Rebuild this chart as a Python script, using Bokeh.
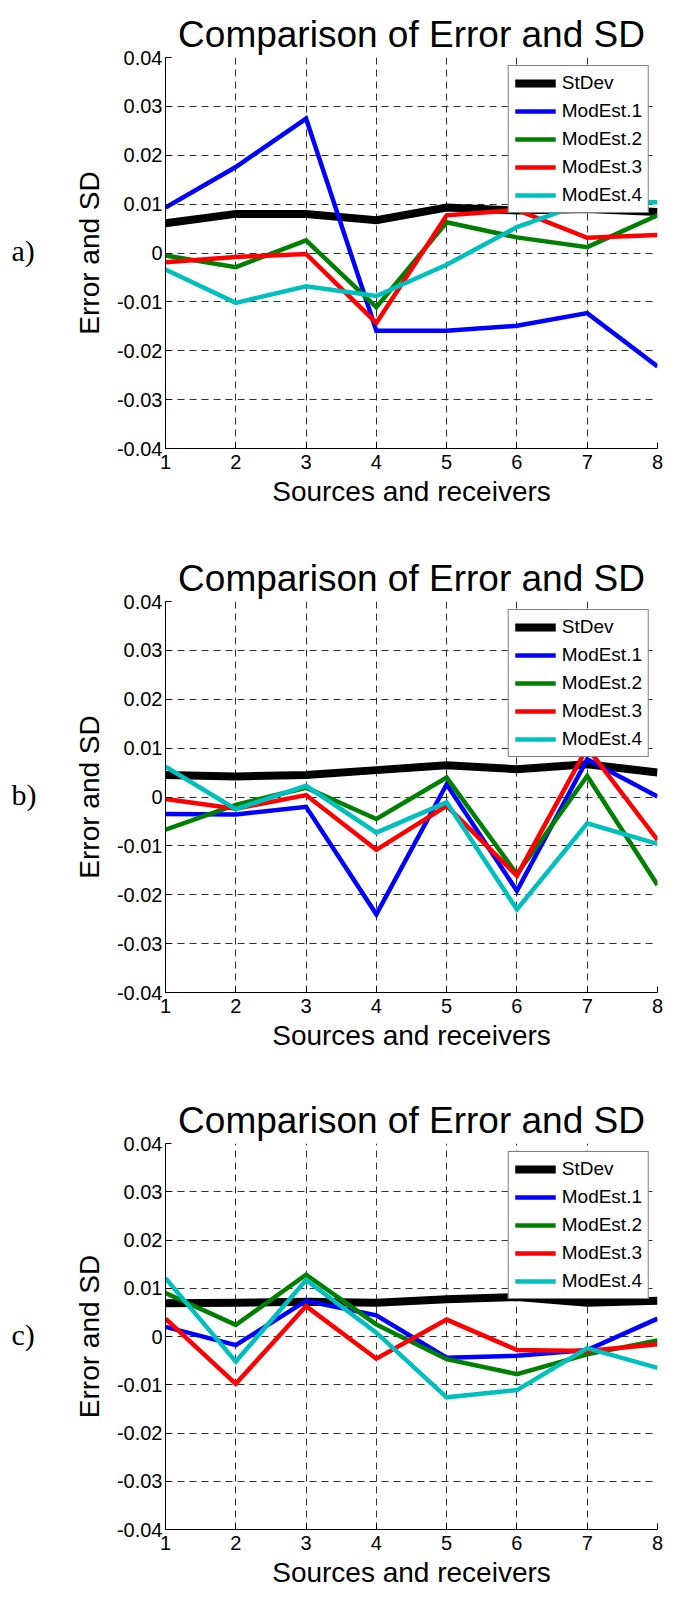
from bokeh.plotting import figure
from bokeh.models import FixedTicker, Legend, LegendItem
from bokeh.layouts import column, row
from bokeh.core.properties import value
from bokeh.embed import file_html
from bokeh.resources import INLINE

x = [1, 2, 3, 4, 5, 6, 7, 8]
series_names = ["StDev", "ModEst.1", "ModEst.2", "ModEst.3", "ModEst.4"]
y_ticks = [-0.04, -0.03, -0.02, -0.01, 0.0, 0.01, 0.02, 0.03, 0.04]
y_tick_labels = ["-0.04", "-0.03", "-0.02", "-0.01", "0", "0.01", "0.02", "0.03", "0.04"]
panel_tags = ["a)", "b)", "c)"]

# panel a
a_stdev = [0.0061, 0.0080, 0.0080, 0.0067, 0.0093, 0.0087, 0.0090, 0.0084]
a_mod1 = [0.0093, 0.0176, 0.0275, -0.0159, -0.0159, -0.0149, -0.0123, -0.0232]
a_mod2 = [-0.0005, -0.0029, 0.0026, -0.0111, 0.0063, 0.0032, 0.0012, 0.0077]
a_mod3 = [-0.0019, -0.0008, -0.0002, -0.0143, 0.0077, 0.0088, 0.0031, 0.0037]
a_mod4 = [-0.0034, -0.0102, -0.0068, -0.0088, -0.0024, 0.0053, 0.0104, 0.0104]

# panel b
b_stdev = [0.0045, 0.0042, 0.0045, 0.0055, 0.0065, 0.0057, 0.0067, 0.0050]
b_mod1 = [-0.0035, -0.0036, -0.0020, -0.0240, 0.0026, -0.0192, 0.0077, 0.0001]
b_mod2 = [-0.0067, -0.0016, 0.0019, -0.0045, 0.0040, -0.0158, 0.0043, -0.0180]
b_mod3 = [-0.0004, -0.0024, 0.0004, -0.0108, -0.0018, -0.0161, 0.0101, -0.0088]
b_mod4 = [0.0062, -0.0025, 0.0023, -0.0073, -0.0011, -0.0230, -0.0054, -0.0096]

# panel c
c_stdev = [0.0069, 0.0070, 0.0072, 0.0070, 0.0077, 0.0082, 0.0070, 0.0074]
c_mod1 = [0.0020, -0.0018, 0.0074, 0.0044, -0.0044, -0.0040, -0.0028, 0.0037]
c_mod2 = [0.0090, 0.0024, 0.0128, 0.0025, -0.0047, -0.0078, -0.0037, -0.0008]
c_mod3 = [0.0037, -0.0098, 0.0063, -0.0046, 0.0035, -0.0028, -0.0030, -0.0016]
c_mod4 = [0.0121, -0.0052, 0.0117, 0.0008, -0.0126, -0.0111, -0.0024, -0.0065]

panels = [
    [a_stdev, a_mod1, a_mod2, a_mod3, a_mod4],
    [b_stdev, b_mod1, b_mod2, b_mod3, b_mod4],
    [c_stdev, c_mod1, c_mod2, c_mod3, c_mod4],
]

colors = ["#000000", "#0000FF", "#008000", "#FF0000", "#00BFBF"]
widths = [8, 4.5, 4.5, 4.5, 4.5]

FONT = "Liberation Sans"

fig_heights = [551, 543, 500]
frame_heights = [391, 391, 386]
top_borders = [57, 50, 49]
TAG_W = 60

rows = []
for i, data in enumerate(panels):
    h = fig_heights[i]
    fh = frame_heights[i]
    top = top_borders[i]
    bottom = h - top - fh

    # panel tag column
    t = figure(width=TAG_W, height=h, x_range=(0, TAG_W), y_range=(-0.04, 0.04),
               output_backend="svg", toolbar_location=None,
               min_border_left=0, min_border_right=0,
               min_border_top=top, min_border_bottom=bottom)
    t.axis.visible = False
    t.grid.visible = False
    t.outline_line_color = None
    t.text(x=[11], y=[0.0005], text=[panel_tags[i]], text_font=value("Liberation Serif"),
           text_font_size="30px", text_align="left", text_baseline="middle",
           text_color="black")

    p = figure(width=673 - TAG_W, height=h, x_range=(1, 8), y_range=(-0.04, 0.04),
               output_backend="svg", toolbar_location=None,
               min_border_left=165 - TAG_W, min_border_right=16,
               min_border_top=top, min_border_bottom=bottom,
               title="Comparison of Error and SD")
    p.title.text_font = FONT
    p.title.text_font_size = "37px"
    p.title.text_font_style = "normal"
    p.title.text_color = "black"
    p.title.align = "center"
    p.title.standoff = 6
    p.outline_line_color = None

    items = []
    for name, ys, c, w in zip(series_names, data, colors, widths):
        r = p.line(x, ys, line_color=c, line_width=w, line_join="miter")
        items.append(LegendItem(label=name, renderers=[r]))

    leg = Legend(items=items, location="top_right")
    leg.label_text_font = FONT
    leg.label_text_font_size = "19px"
    leg.label_text_color = "black"
    leg.glyph_width = 41
    leg.glyph_height = 20
    leg.label_height = 20
    leg.spacing = 6
    leg.padding = 6
    leg.margin = 8
    leg.label_standoff = 6
    leg.border_line_color = "black"
    leg.border_line_width = 1
    leg.background_fill_alpha = 1.0
    p.add_layout(leg)

    p.xaxis.ticker = FixedTicker(ticks=x)
    p.yaxis.ticker = FixedTicker(ticks=y_ticks)
    p.yaxis.major_label_overrides = {tk: s for tk, s in zip(y_ticks, y_tick_labels)}
    for ax in (p.xaxis, p.yaxis):
        ax.axis_line_color = "black"
        ax.axis_line_width = 1
        ax.major_tick_in = 6
        ax.major_tick_out = 0
        ax.minor_tick_line_color = None
        ax.major_tick_line_color = "black"
        ax.major_label_text_font = FONT
        ax.major_label_text_font_size = "20px"
        ax.major_label_text_color = "black"
        ax.axis_label_text_font = FONT
        ax.axis_label_text_font_size = "28px"
        ax.axis_label_text_font_style = "normal"
        ax.axis_label_text_color = "black"
    p.xaxis.axis_label = "Sources and receivers"
    p.yaxis.axis_label = "Error and SD"
    p.xaxis.major_label_standoff = 6
    p.yaxis.major_label_standoff = 3
    p.xaxis.axis_label_standoff = 4
    p.yaxis.axis_label_standoff = 9

    p.grid.grid_line_color = "#303030"
    p.grid.grid_line_dash = "7 5"
    p.grid.grid_line_width = 1

    rows.append(row(t, p, spacing=0))

layout = column(*rows, spacing=0)
open("out.html", "w").write(file_html(layout, INLINE))
